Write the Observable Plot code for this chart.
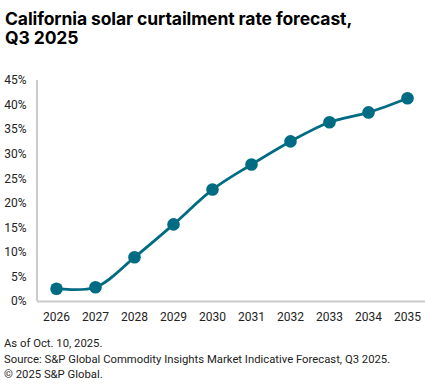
<!DOCTYPE html>
<html>
<head>
<meta charset="utf-8">
<script src="https://cdn.jsdelivr.net/npm/d3@7"></script>
<script src="https://cdn.jsdelivr.net/npm/@observablehq/plot@0.6"></script>
<style>
  html, body { margin: 0; padding: 0; background: #fff; }
  body { width: 425px; height: 392px; position: relative; font-family: Roboto, "Liberation Sans", sans-serif; }
  #title { position: absolute; left: 5px; top: 9px; font-family: Inter, Roboto, sans-serif; font-weight: 700; font-size: 17.5px; line-height: 19px; color: #000; letter-spacing: -0.1px; }
  #chart { position: absolute; left: 0; top: 70px; }
  #foot { position: absolute; left: 4px; top: 336px; font-size: 11.3px; line-height: 15.5px; color: #222; }
</style>
</head>
<body>
<div id="title">California solar curtailment rate forecast,<br>Q3 2025</div>
<div id="chart"></div>
<div id="foot">As of Oct. 10, 2025.<br>Source: S&amp;P Global Commodity Insights Market Indicative Forecast, Q3 2025.<br>© 2025 S&amp;P Global.</div>
<script>
const years = [2026, 2027, 2028, 2029, 2030, 2031, 2032, 2033, 2034, 2035];
const rates = [2.6, 2.9, 9.0, 15.7, 22.8, 27.9, 32.6, 36.5, 38.5, 41.4];
const yTicks = [0, 5, 10, 15, 20, 25, 30, 35, 40, 45];

const data = years.map((y, i) => ({year: y, rate: rates[i]}));
const color = "#006c83";

const H = 262, MT = 10, MB = 31, ML = 37;
const chart = Plot.plot({
  width: 425,
  height: H,
  marginTop: MT,
  marginBottom: MB,
  marginLeft: ML,
  marginRight: 0,
  style: {fontFamily: "Roboto, 'Liberation Sans', sans-serif", fontSize: "12px", color: "#222"},
  x: {type: "point", domain: years, padding: 0.46, label: null, tickSize: 0, tickPadding: 11, tickFormat: d => String(d)},
  y: {domain: [0, 45], ticks: yTicks, tickFormat: d => d + "%", label: null, tickSize: 0, tickPadding: 11},
  marks: [
    Plot.ruleY([0], {stroke: "#cccccc", strokeWidth: 2}),
    Plot.lineY(data, {x: "year", y: "rate", stroke: color, strokeWidth: 2.8, curve: "catmull-rom"}),
    Plot.dot(data, {x: "year", y: "rate", r: 6.3, fill: color})
  ]
});
// vertical axis line at left of plot
d3.select(chart).insert("line", ":first-child")
  .attr("x1", ML).attr("x2", ML).attr("y1", MT).attr("y2", H - MB)
  .attr("stroke", "#cccccc").attr("stroke-width", 2);
document.getElementById("chart").append(chart);
</script>
</body>
</html>
